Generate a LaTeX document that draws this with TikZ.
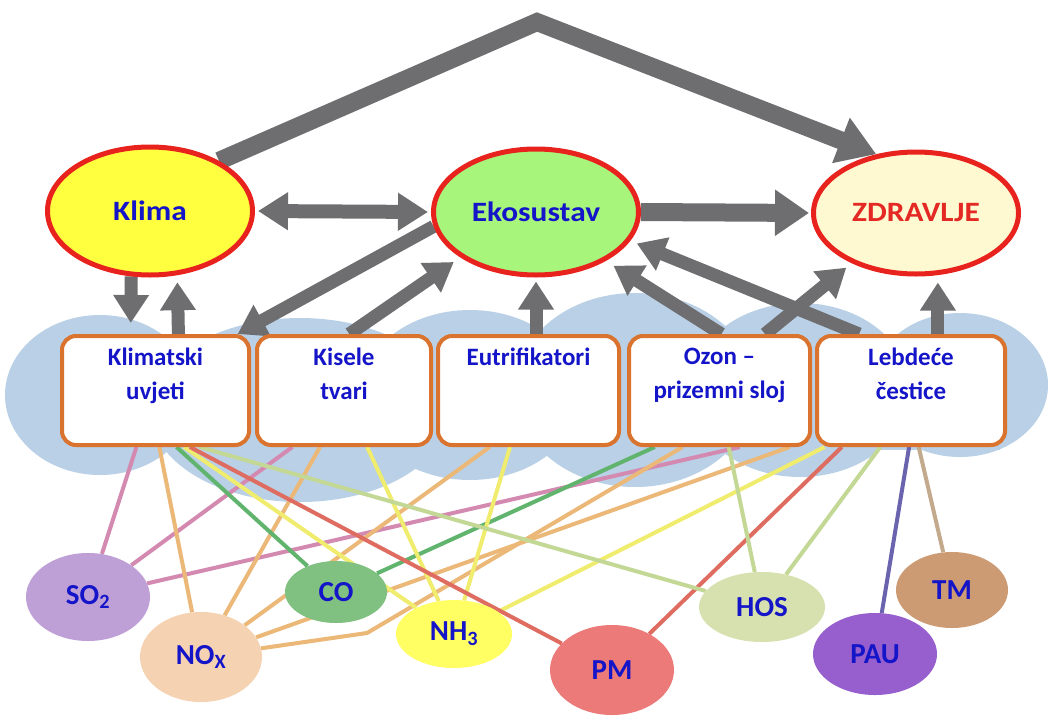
\documentclass[tikz,border=0pt]{standalone}
\usepackage{fontspec}
\setmainfont{Carlito}
\newfontfamily\lblfont[FakeStretch=1.12]{Carlito}
\usetikzlibrary{shapes.geometric,arrows.meta,calc}
\pgfdeclarelayer{cloudlayer}
\pgfdeclarelayer{linelayer}
\pgfdeclarelayer{arrowlayer}
\pgfsetlayers{cloudlayer,linelayer,arrowlayer,main}
\definecolor{cloudc}{RGB}{185,208,230}
\definecolor{arrowc}{RGB}{110,110,112}
\definecolor{redb}{RGB}{232,35,30}
\definecolor{lblue}{RGB}{20,20,200}
\definecolor{zred}{RGB}{228,40,36}
\definecolor{klimac}{RGB}{255,255,64}
\definecolor{ekoc}{RGB}{168,245,124}
\definecolor{zdc}{RGB}{255,249,210}
\definecolor{boxor}{RGB}{217,115,46}
\definecolor{so2c}{RGB}{190,160,215}
\definecolor{noxc}{RGB}{245,210,178}
\definecolor{coc}{RGB}{128,192,128}
\definecolor{nh3c}{RGB}{255,255,100}
\definecolor{pmc}{RGB}{236,122,120}
\definecolor{hosc}{RGB}{215,225,175}
\definecolor{pauc}{RGB}{150,95,205}
\definecolor{tmc}{RGB}{205,155,115}
\definecolor{so2l}{RGB}{212,138,176}
\definecolor{noxl}{RGB}{236,184,120}
\definecolor{col}{RGB}{96,180,110}
\definecolor{nh3l}{RGB}{240,236,110}
\definecolor{pml}{RGB}{222,108,96}
\definecolor{hosl}{RGB}{196,216,150}
\definecolor{paul}{RGB}{106,100,174}
\definecolor{tml}{RGB}{196,170,140}
\newcommand\boxtxt[1]{\parbox[c][85pt][t]{170pt}{\centering #1}}
\tikzset{
  topell/.style={ellipse, draw=redb, line width=5pt, minimum width=205pt,
    minimum height=128pt, inner sep=0pt,
    font=\lblfont\fontsize{28}{30}\selectfont\bfseries, text=lblue},
  boxnode/.style={rectangle, rounded corners=14pt, draw=boxor, line width=4pt,
    fill=white, minimum height=109pt, inner sep=0pt, text=lblue,
    font=\fontsize{25}{34}\selectfont\bfseries},
  pollell/.style={ellipse, inner sep=0pt,
    font=\fontsize{29}{30}\selectfont\bfseries, text=lblue},
  conn/.style={line width=4pt},
  bigarrow/.style={draw=arrowc, line width=18pt, -{Triangle[width=46pt,length=38pt]}},
  medarrow/.style={draw=arrowc, line width=14pt, {Triangle[width=36pt,length=30pt]}-{Triangle[width=36pt,length=30pt]}},
  hozarrow/.style={draw=arrowc, line width=18pt, -{Triangle[width=44pt,length=34pt]}},
  boxarrow/.style={draw=arrowc, line width=13pt, -{Triangle[width=34pt,length=28pt]}}
}
\begin{document}
\begin{tikzpicture}[x=1pt,y=-1pt]
\useasboundingbox (0,0) rectangle (1051,726);
\begin{pgfonlayer}{cloudlayer}
  \fill[white] (0,0) rectangle (1051,726);
  \fill[cloudc] (100,395) ellipse [x radius=95, y radius=80];
  \fill[cloudc] (300,410) ellipse [x radius=150, y radius=92];
  \fill[cloudc] (470,395) ellipse [x radius=110, y radius=85];
  \fill[cloudc] (635,390) ellipse [x radius=120, y radius=97];
  \fill[cloudc] (800,390) ellipse [x radius=110, y radius=87];
  \fill[cloudc] (960,385) ellipse [x radius=88, y radius=72];
  \fill[cloudc] (60,340) rectangle (1000,450);
\end{pgfonlayer}

% top ellipses
\node[topell, fill=klimac] (kl) at (150,211) {Klima};
\node[topell, fill=ekoc, minimum height=126pt] (eko) at (536,212) {Ekosustav};
\node[topell, fill=zdc, minimum height=122pt, text=zred] (zd) at (916,213) {ZDRAVLJE};

% boxes
\node[boxnode, minimum width=187pt] (b1) at (155.5,390.5) {\boxtxt{Klimatski\\uvjeti}};
\node[boxnode, minimum width=174pt] (b2) at (344,390.5) {\boxtxt{Kisele\\tvari}};
\node[boxnode, minimum width=181pt] (b3) at (528.5,390.5) {\boxtxt{Eutrifikatori}};
\node[boxnode, minimum width=181pt] (b4) at (719.5,390.5) {\boxtxt{Ozon --\\prizemni sloj}};
\node[boxnode, minimum width=188pt] (b5) at (911,390.5) {\boxtxt{Lebdeće\\čestice}};

% pollutants
\node[pollell, fill=so2c, minimum width=124pt, minimum height=88pt] (so2) at (88,597) {SO\textsubscript{2}};
\node[pollell, fill=noxc, minimum width=122pt, minimum height=90pt] (nox) at (201,657) {NO\textsubscript{X}};
\node[pollell, fill=coc, minimum width=102pt, minimum height=62pt] (co) at (336,592) {CO};
\node[pollell, fill=nh3c, minimum width=116pt, minimum height=68pt] (nh3) at (454,634) {NH\textsubscript{3}};
\node[pollell, fill=pmc, minimum width=124pt, minimum height=90pt] (pm) at (612,670) {PM};
\node[pollell, fill=hosc, minimum width=126pt, minimum height=70pt] (hos) at (762,607) {HOS};
\node[pollell, fill=pauc, minimum width=124pt, minimum height=82pt] (pau) at (875,654) {PAU};
\node[pollell, fill=tmc, minimum width=112pt, minimum height=76pt] (tm) at (952,590) {TM};

\coordinate (apex) at (537,22);
\coordinate (bend) at (367,633);

% arrows
\begin{pgfonlayer}{arrowlayer}
  \draw[bigarrow] (kl.36) -- (apex) -- (zd.124);
  \draw[medarrow, shorten <=3pt, shorten >=3pt] (kl.east) -- (eko.west);
  \draw[hozarrow, shorten >=2pt] (eko.east) -- (zd.west);
  \draw[boxarrow, shorten >=11pt] (kl.254) -- ($(b1.north west)!.37!(b1.north east)$);
  \draw[boxarrow, shorten >=7pt] ($(b1.north west)!.62!(b1.north east)$) -- (kl.293.5);
  \draw[boxarrow] (eko.188) -- ($(b1.north west)!.93!(b1.north east)$);
  \draw[boxarrow, shorten >=8pt] ($(b2.north west)!.53!(b2.north east)$) -- (eko.211);
  \draw[boxarrow, shorten >=4pt] (eko.south |- b3.north) -- (eko.south);
  \draw[boxarrow, shorten >=9pt] ($(b4.north west)!.51!(b4.north east)$) -- (eko.325);
  \draw[boxarrow, shorten >=7pt] ($(b5.north west)!.23!(b5.north east)$) -- (eko.343);
  \draw[boxarrow, shorten >=7pt] ($(b4.north west)!.746!(b4.north east)$) -- (zd.218);
  \draw[boxarrow, shorten >=6pt] ($(b5.north west)!.64!(b5.north east)$) coordinate (b5up) -- (b5up |- zd.south);
\end{pgfonlayer}

% pollutant connectors
\begin{pgfonlayer}{linelayer}
  \draw[conn, so2l] (so2) -- ($(b1.south west)!.40!(b1.south east)$);
  \draw[conn, so2l] (so2) -- ($(b2.south west)!.21!(b2.south east)$);
  \draw[conn, so2l] (so2) -- ($(b4.south west)!.61!(b4.south east)$);
  \draw[conn, noxl] (nox) -- ($(b1.south west)!.52!(b1.south east)$);
  \draw[conn, noxl] (nox) -- ($(b2.south west)!.365!(b2.south east)$);
  \draw[conn, noxl] (nox) -- ($(b3.south west)!.29!(b3.south east)$);
  \draw[conn, noxl] (nox) -- ($(b4.south west)!.88!(b4.south east)$);
  \draw[conn, noxl] (nox) -- (bend) -- ($(b4.south west)!.30!(b4.south east)$);
  \draw[conn, col] (co) -- ($(b1.south west)!.61!(b1.south east)$);
  \draw[conn, col] (co) -- ($(b4.south west)!.15!(b4.south east)$);
  \draw[conn, nh3l] (nh3) -- ($(b1.south west)!.65!(b1.south east)$);
  \draw[conn, nh3l] (nh3) -- ($(b2.south west)!.63!(b2.south east)$);
  \draw[conn, nh3l] (nh3) -- ($(b3.south west)!.40!(b3.south east)$);
  \draw[conn, nh3l] (nh3) -- ($(b5.south west)!.05!(b5.south east)$);
  \draw[conn, pml] (pm) -- ($(b1.south west)!.68!(b1.south east)$);
  \draw[conn, pml] (pm) -- ($(b5.south west)!.14!(b5.south east)$);
  \draw[conn, hosl] (hos) -- ($(b1.south west)!.73!(b1.south east)$);
  \draw[conn, hosl] (hos) -- ($(b4.south west)!.55!(b4.south east)$);
  \draw[conn, hosl] (hos) -- ($(b5.south west)!.34!(b5.south east)$);
  \draw[conn, paul] (pau) -- ($(b5.south west)!.49!(b5.south east)$);
  \draw[conn, tml] (tm) -- ($(b5.south west)!.54!(b5.south east)$);
\end{pgfonlayer}
\end{tikzpicture}
\end{document}
